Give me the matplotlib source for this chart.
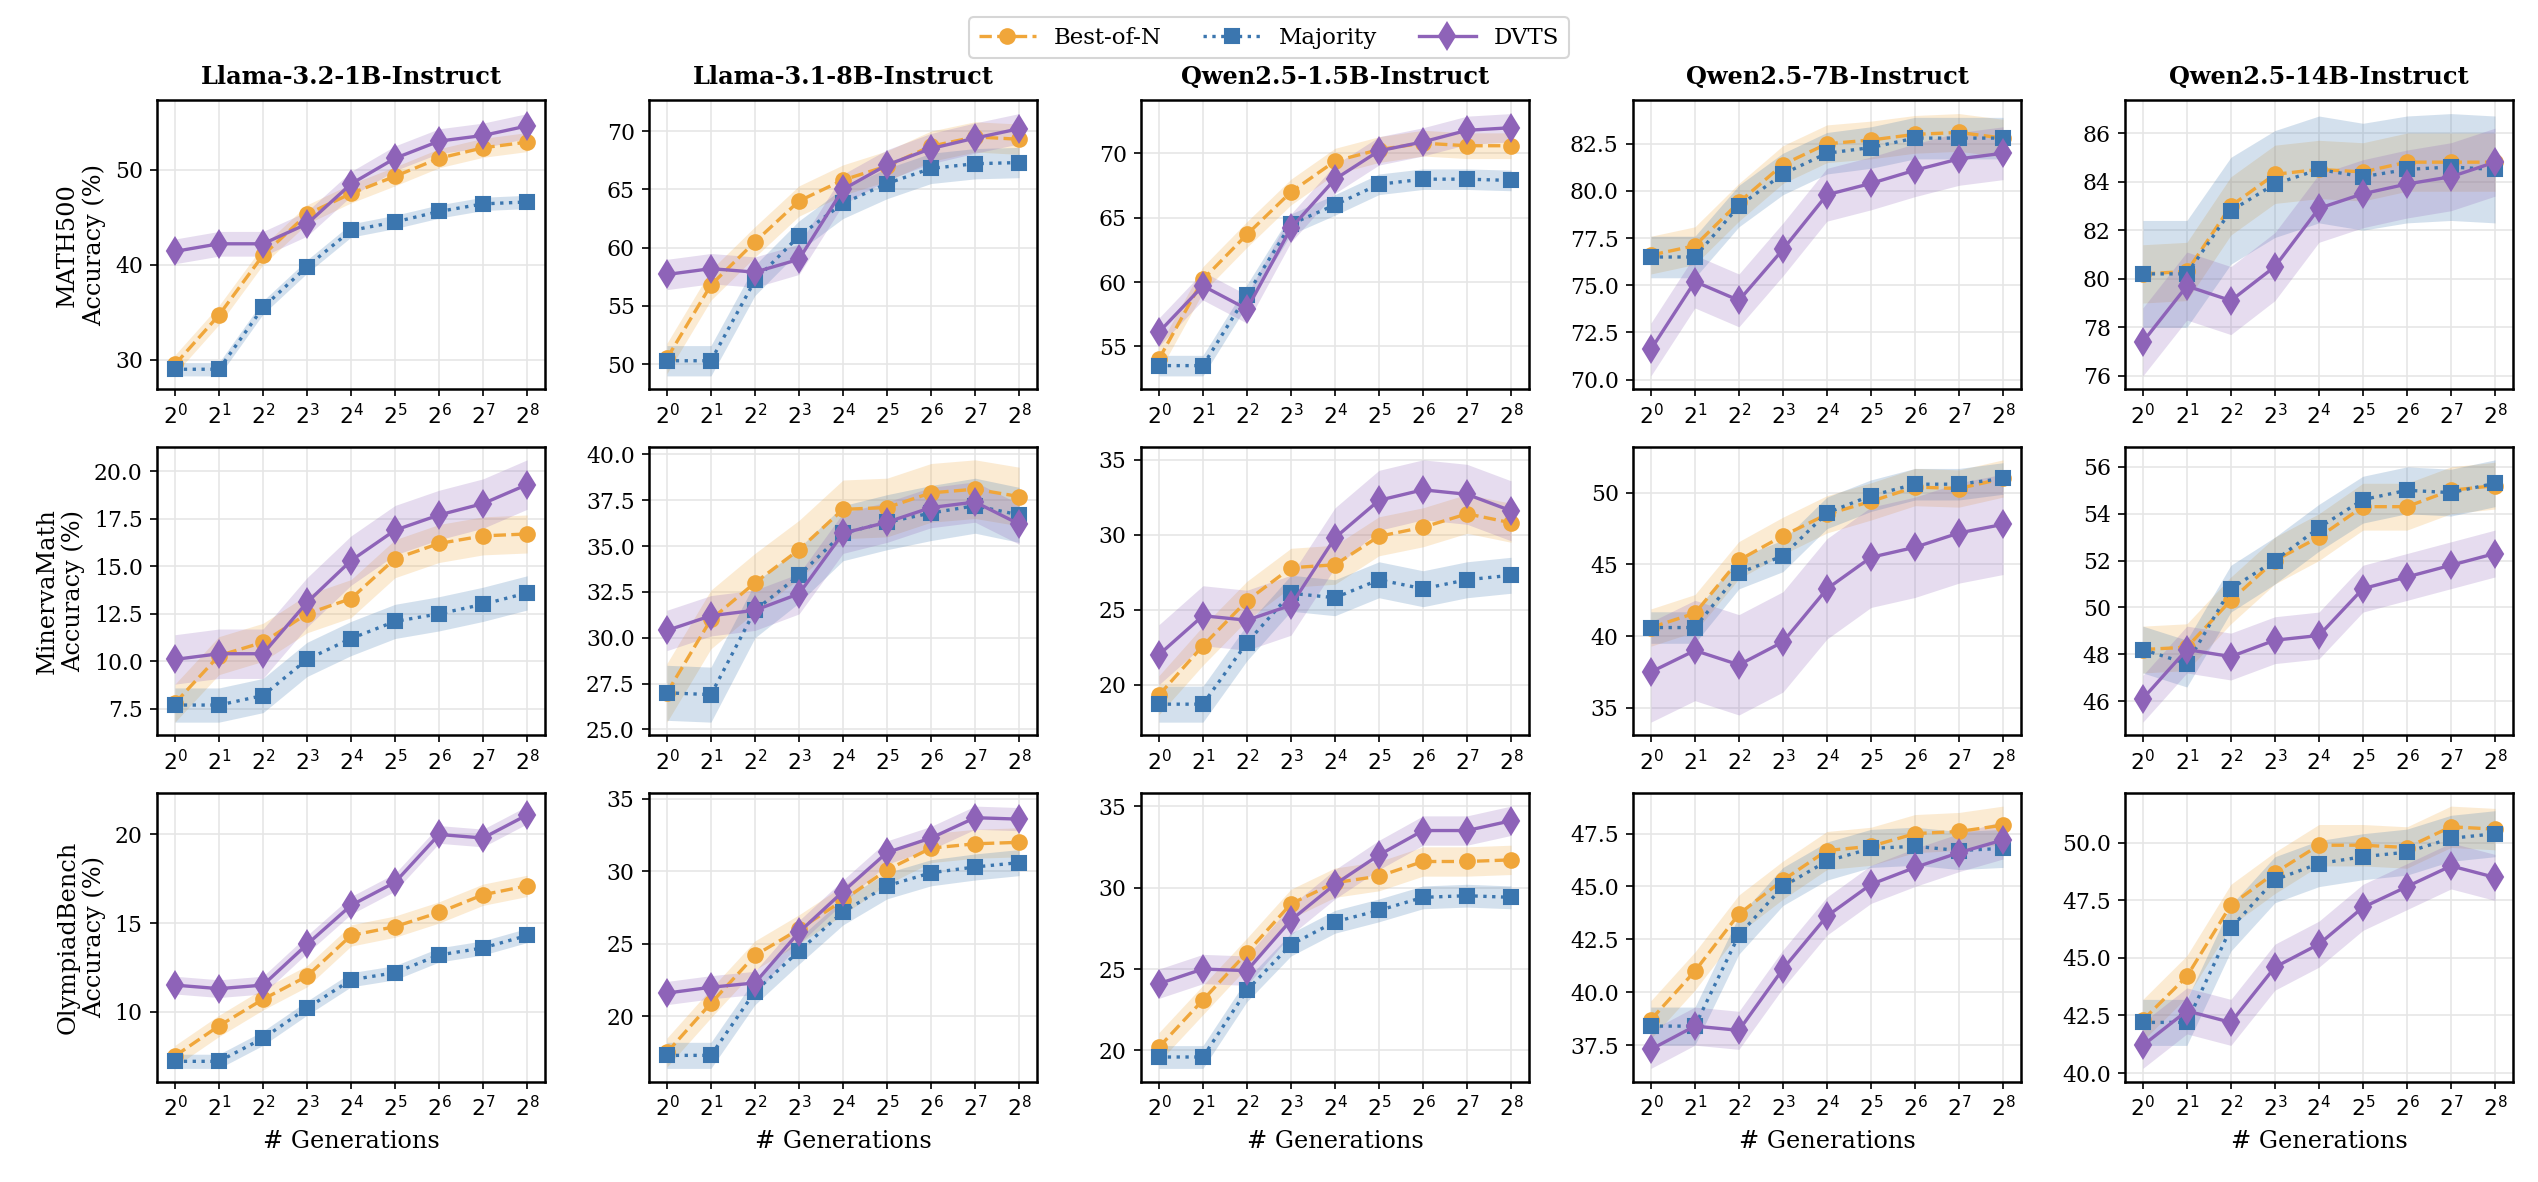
import numpy as np
import matplotlib
matplotlib.use('Agg')
import matplotlib.pyplot as plt
from matplotlib.lines import Line2D
from matplotlib.ticker import MultipleLocator

plt.rcParams['font.family'] = 'DejaVu Serif'

# ── datos ────────────────────────────────────────────────────────────────────
models = ['Llama-3.2-1B-Instruct', 'Llama-3.1-8B-Instruct', 'Qwen2.5-1.5B-Instruct',
          'Qwen2.5-7B-Instruct', 'Qwen2.5-14B-Instruct']
datasets = ['MATH500', 'MinervaMath', 'OlympiadBench']
exps = list(range(9))

# [dataset][model] -> valores por 2^k
bon = [
    [[29.5, 34.7, 41.0, 45.3, 47.5, 49.3, 51.2, 52.3, 52.9],
     [50.5, 56.8, 60.5, 64.0, 65.8, 67.0, 68.7, 69.5, 69.3],
     [54.0, 60.2, 63.7, 67.0, 69.4, 70.3, 70.8, 70.6, 70.6],
     [76.6, 77.1, 79.4, 81.4, 82.5, 82.7, 83.0, 83.1, 82.8],
     [80.2, 80.3, 83.0, 84.3, 84.5, 84.4, 84.8, 84.8, 84.8]],
    [[7.8, 10.3, 11.0, 12.5, 13.3, 15.4, 16.2, 16.6, 16.7],
     [27.0, 31.0, 33.0, 34.8, 37.0, 37.1, 37.9, 38.1, 37.7],
     [19.3, 22.6, 25.6, 27.8, 28.0, 29.9, 30.5, 31.4, 30.8],
     [40.6, 41.6, 45.3, 47.0, 48.5, 49.4, 50.4, 50.3, 51.0],
     [48.2, 48.3, 50.3, 52.0, 53.0, 54.3, 54.3, 55.0, 55.2]],
    [[7.5, 9.2, 10.7, 12.0, 14.3, 14.8, 15.6, 16.6, 17.1],
     [17.5, 20.9, 24.2, 26.0, 28.0, 30.1, 31.6, 31.9, 32.0],
     [20.2, 23.1, 26.0, 29.0, 30.3, 30.7, 31.6, 31.6, 31.7],
     [38.7, 41.0, 43.7, 45.3, 46.7, 46.9, 47.5, 47.6, 47.9],
     [42.3, 44.2, 47.3, 48.7, 49.9, 49.9, 49.8, 50.7, 50.6]],
]
majority = [
    [[29.0, 29.0, 35.5, 39.8, 43.6, 44.5, 45.6, 46.4, 46.6],
     [50.3, 50.3, 57.2, 61.0, 63.8, 65.5, 66.8, 67.2, 67.3],
     [53.5, 53.5, 59.0, 64.5, 66.0, 67.6, 68.0, 68.0, 67.9],
     [76.5, 76.5, 79.2, 80.9, 82.0, 82.3, 82.8, 82.8, 82.8],
     [80.2, 80.2, 82.8, 83.9, 84.5, 84.2, 84.5, 84.6, 84.5]],
    [[7.7, 7.7, 8.2, 10.1, 11.2, 12.1, 12.5, 13.0, 13.6],
     [27.0, 26.9, 31.5, 33.4, 35.7, 36.3, 36.8, 37.2, 36.7],
     [18.7, 18.7, 22.8, 26.1, 25.8, 27.0, 26.4, 27.0, 27.3],
     [40.6, 40.6, 44.4, 45.6, 48.6, 49.8, 50.6, 50.6, 51.0],
     [48.2, 47.6, 50.8, 52.0, 53.4, 54.6, 55.0, 54.9, 55.3]],
    [[7.2, 7.2, 8.5, 10.2, 11.8, 12.2, 13.2, 13.6, 14.3],
     [17.3, 17.3, 21.7, 24.5, 27.2, 29.0, 29.9, 30.3, 30.6],
     [19.6, 19.6, 23.7, 26.5, 27.9, 28.6, 29.4, 29.5, 29.4],
     [38.4, 38.4, 42.7, 45.0, 46.2, 46.8, 46.9, 46.7, 46.8],
     [42.2, 42.2, 46.3, 48.4, 49.1, 49.4, 49.6, 50.2, 50.4]],
]
dvts = [
    [[41.4, 42.2, 42.2, 44.3, 48.5, 51.2, 53.0, 53.6, 54.6],
     [57.7, 58.2, 57.9, 59.0, 65.0, 67.1, 68.5, 69.4, 70.2],
     [56.1, 59.7, 57.9, 64.2, 68.0, 70.2, 70.9, 71.8, 72.0],
     [71.6, 75.2, 74.2, 76.9, 79.8, 80.4, 81.1, 81.7, 82.0],
     [77.4, 79.7, 79.1, 80.5, 82.9, 83.5, 83.9, 84.2, 84.8]],
    [[10.1, 10.4, 10.4, 13.1, 15.3, 16.9, 17.7, 18.3, 19.3],
     [30.4, 31.2, 31.5, 32.4, 35.7, 36.3, 37.1, 37.4, 36.2],
     [22.0, 24.6, 24.3, 25.3, 29.8, 32.3, 33.0, 32.7, 31.6],
     [37.5, 39.0, 38.0, 39.6, 43.3, 45.5, 46.2, 47.2, 47.8],
     [46.1, 48.2, 47.9, 48.6, 48.8, 50.8, 51.3, 51.8, 52.3]],
    [[11.5, 11.3, 11.5, 13.8, 16.0, 17.3, 20.0, 19.8, 21.1],
     [21.6, 22.0, 22.3, 25.8, 28.6, 31.3, 32.3, 33.7, 33.6],
     [24.1, 25.0, 24.9, 28.0, 30.2, 32.0, 33.5, 33.5, 34.1],
     [37.3, 38.4, 38.2, 41.1, 43.6, 45.1, 45.9, 46.6, 47.2],
     [41.2, 42.7, 42.2, 44.6, 45.6, 47.2, 48.1, 49.0, 48.5]],
]
# semi-ancho aproximado de la banda sombreada, por panel: (bon, majority, dvts)
spread = [
    [(1.0, 0.7, 1.3), (1.3, 1.3, 1.3), (1.0, 0.8, 1.1), (1.0, 1.1, 1.4), (1.2, 2.2, 1.4)],
    [(1.0, 0.9, 1.3), (1.6, 1.5, 1.1), (1.3, 1.2, 2.0), (1.3, 1.1, 3.5), (1.0, 1.0, 1.0)],
    [(0.6, 0.4, 0.5), (1.0, 0.9, 0.8), (0.9, 0.7, 0.9), (0.9, 0.9, 0.9), (0.9, 1.0, 1.0)],
]
# paso de las marcas del eje y, por panel
ystep = [
    [10, 5, 5, 2.5, 2],
    [2.5, 2.5, 5, 5, 2],
    [5, 5, 5, 2.5, 2.5],
]

C_BON = '#f0a63a'
C_MAJ = '#3b76af'
C_DVTS = '#8e63b8'

series = [
    ('Best-of-N', bon, C_BON, 'o', '--', 7),
    ('Majority', majority, C_MAJ, 's', ':', 7),
    ('DVTS', dvts, C_DVTS, 'd', '-', 9),
]

fig, axes = plt.subplots(3, 5, figsize=(16.92, 7.88), dpi=150)
fig.subplots_adjust(left=0.062, right=0.99, top=0.915, bottom=0.085,
                    wspace=0.27, hspace=0.2)

for r in range(3):
    for c in range(5):
        ax = axes[r, c]
        for k, (name, data, color, mk, ls, ms) in enumerate(series):
            y = np.array(data[r][c])
            s = spread[r][c][k]
            ax.fill_between(exps, y - s, y + s, color=color, alpha=0.22, lw=0)
            ax.plot(exps, y, color=color, marker=mk, linestyle=ls, lw=1.6,
                    markersize=ms)
        ax.set_xticks(exps)
        ax.set_xticklabels([f'$2^{{{e}}}$' for e in exps])
        ax.yaxis.set_major_locator(MultipleLocator(ystep[r][c]))
        ax.grid(True, color='#e6e6e6', lw=0.8)
        ax.set_axisbelow(True)
        ax.tick_params(labelsize=10.5)
        for sp in ax.spines.values():
            sp.set_linewidth(1.2)
        if r == 0:
            ax.set_title(models[c], fontsize=11.5, fontweight='bold', pad=8)
        if c == 0:
            ax.set_ylabel(f'{datasets[r]}\nAccuracy (%)', fontsize=11.5)
        if r == 2:
            ax.set_xlabel('# Generations', fontsize=11.5)

handles = [Line2D([], [], color=col, marker=mk, linestyle=ls, lw=1.6, markersize=ms)
           for _, _, col, mk, ls, ms in series]
fig.legend(handles, [s[0] for s in series], loc='upper center', ncol=3,
           bbox_to_anchor=(0.5, 0.995), fontsize=11, frameon=True, handlelength=2.5,
           columnspacing=1.8)

fig.savefig('out.png', dpi=150)
